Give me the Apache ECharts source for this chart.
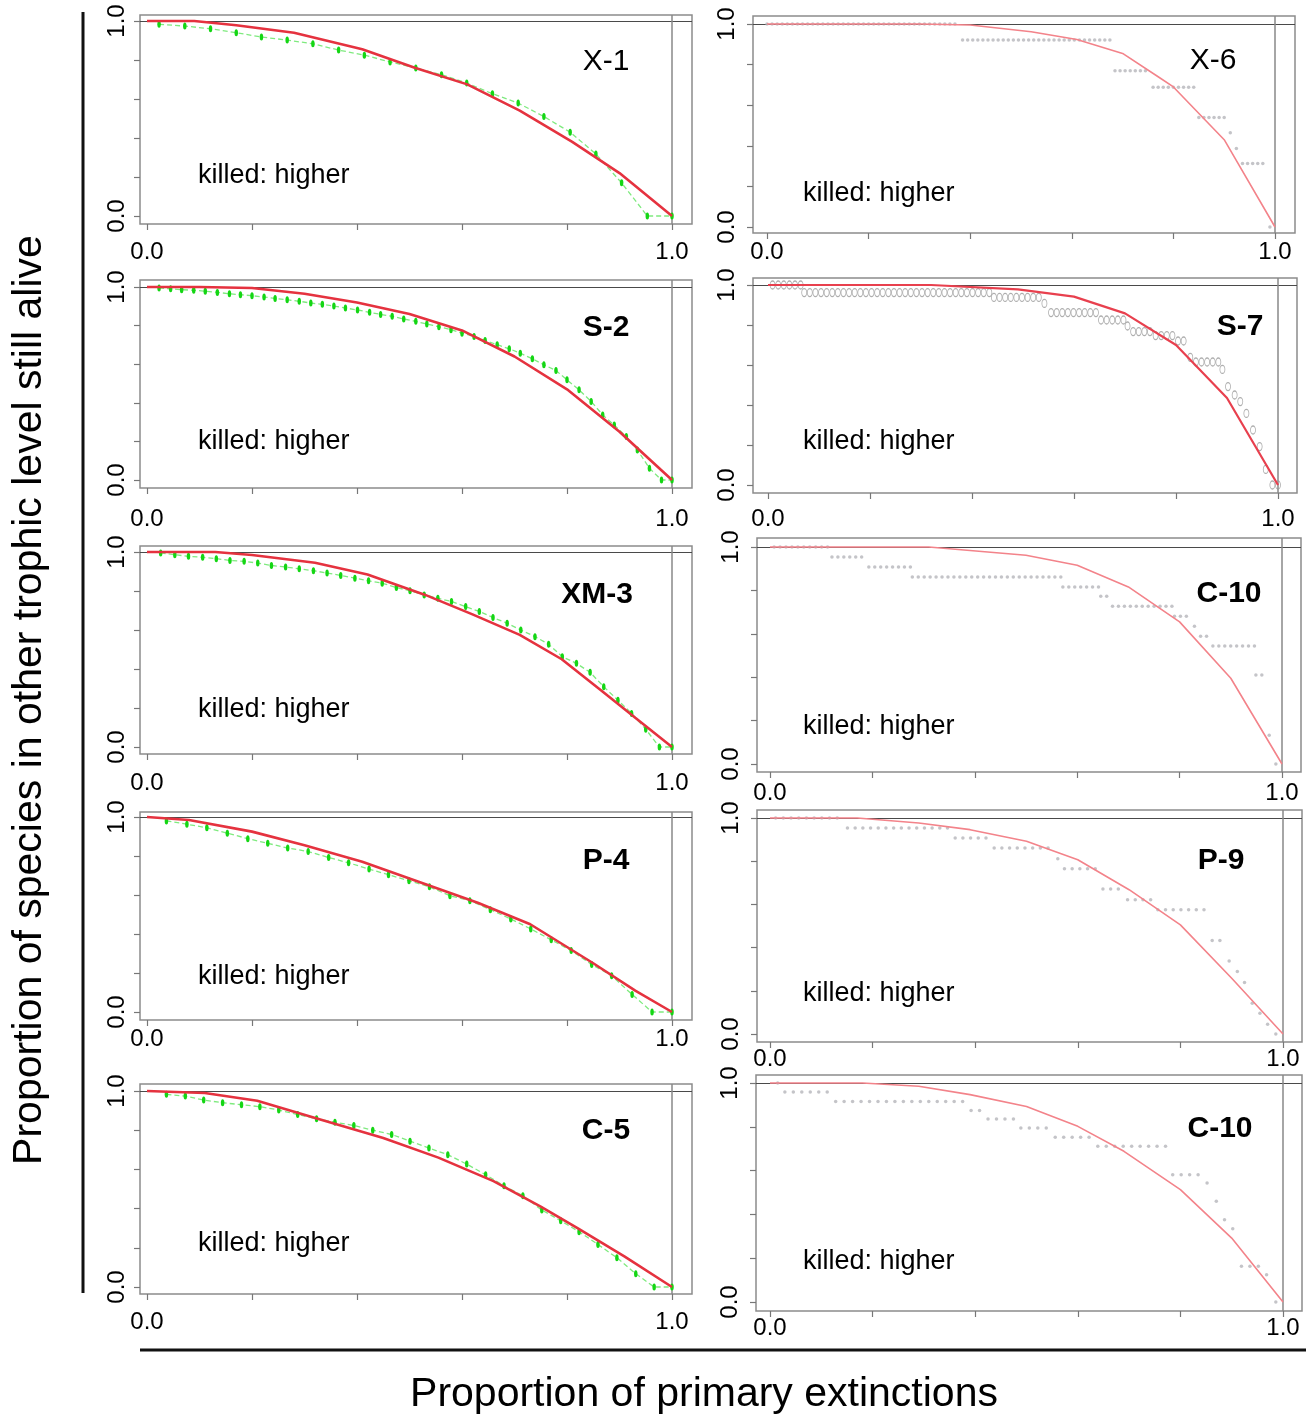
<!DOCTYPE html>
<html>
<head>
<meta charset="utf-8">
<script src="https://cdn.jsdelivr.net/npm/echarts@6/dist/echarts.min.js"></script>
<style>
  html, body { margin: 0; padding: 0; background: #fff; }
  #chart { width: 1306px; height: 1415px; }
</style>
</head>
<body>
<div id="chart"></div>
<script>
(function () {
    // tick positions and the two labelled values on every axis
    const tickValues = [0, 0.2, 0.4, 0.6, 0.8, 1.0];
    const labelValues = [0, 1];
    const panelNames = ['X-1', 'S-2', 'XM-3', 'P-4', 'C-5', 'X-6', 'S-7', 'C-10', 'P-9', 'C-10'];

    // left column: green observed points, red expected curve
    const x1Green = [[0.023, 0.983], [0.072, 0.974], [0.121, 0.960], [0.170, 0.940], [0.218, 0.918], [0.267, 0.902],
        [0.316, 0.883], [0.365, 0.851], [0.414, 0.825], [0.463, 0.790], [0.512, 0.759], [0.561, 0.725], [0.609, 0.682],
        [0.658, 0.627], [0.707, 0.579], [0.756, 0.510], [0.806, 0.430], [0.855, 0.318], [0.904, 0.170], [0.953, 0], [1, 0]];
    const x1Red = [[0, 1], [0.09, 1.0], [0.17, 0.978], [0.28, 0.94], [0.41, 0.855], [0.51, 0.76], [0.61, 0.675],
        [0.71, 0.54], [0.81, 0.38], [0.90, 0.22], [1, 0]];

    const s2Green = [[0.023, 0.995], [0.045, 0.991], [0.066, 0.986], [0.089, 0.983], [0.111, 0.978], [0.134, 0.972],
        [0.157, 0.965], [0.178, 0.960], [0.200, 0.955], [0.223, 0.948], [0.244, 0.941], [0.267, 0.934], [0.290, 0.926],
        [0.312, 0.917], [0.334, 0.910], [0.356, 0.901], [0.378, 0.891], [0.401, 0.881], [0.424, 0.869], [0.445, 0.858],
        [0.467, 0.848], [0.489, 0.834], [0.512, 0.822], [0.533, 0.808], [0.556, 0.794], [0.579, 0.779], [0.600, 0.761],
        [0.623, 0.744], [0.644, 0.723], [0.667, 0.701], [0.690, 0.680], [0.711, 0.657], [0.734, 0.628], [0.756, 0.597],
        [0.779, 0.567], [0.800, 0.519], [0.823, 0.467], [0.846, 0.407], [0.868, 0.337], [0.890, 0.285], [0.913, 0.225],
        [0.934, 0.156], [0.957, 0.061], [0.980, 0], [1, 0]];
    const s2Red = [[0, 1], [0.1, 1.0], [0.2, 0.995], [0.3, 0.965], [0.4, 0.92], [0.5, 0.86], [0.6, 0.775],
        [0.7, 0.64], [0.8, 0.47], [0.9, 0.25], [1, 0]];

    const xm3Green = [[0.026, 0.995], [0.053, 0.986], [0.079, 0.978], [0.106, 0.973], [0.132, 0.966], [0.158, 0.957],
        [0.185, 0.952], [0.211, 0.943], [0.237, 0.931], [0.264, 0.923], [0.290, 0.914], [0.317, 0.904], [0.343, 0.892],
        [0.369, 0.880], [0.396, 0.866], [0.422, 0.852], [0.448, 0.840], [0.475, 0.818], [0.501, 0.801], [0.528, 0.780],
        [0.554, 0.763], [0.580, 0.746], [0.607, 0.720], [0.633, 0.695], [0.659, 0.664], [0.686, 0.635], [0.712, 0.600],
        [0.739, 0.566], [0.765, 0.527], [0.791, 0.463], [0.818, 0.429], [0.844, 0.383], [0.870, 0.309], [0.897, 0.240],
        [0.923, 0.172], [0.950, 0.091], [0.976, 0], [1, 0]];
    const xm3Red = [[0, 1], [0.13, 1.0], [0.2, 0.985], [0.32, 0.945], [0.42, 0.885], [0.53, 0.78], [0.62, 0.68],
        [0.71, 0.575], [0.79, 0.45], [0.87, 0.28], [0.93, 0.15], [1, 0]];

    const p4Green = [[0.037, 0.980], [0.076, 0.963], [0.114, 0.945], [0.153, 0.917], [0.192, 0.889], [0.230, 0.865],
        [0.268, 0.841], [0.307, 0.823], [0.346, 0.792], [0.384, 0.765], [0.423, 0.733], [0.460, 0.704], [0.499, 0.673],
        [0.538, 0.642], [0.577, 0.596], [0.615, 0.571], [0.654, 0.525], [0.693, 0.477], [0.731, 0.426], [0.770, 0.370],
        [0.808, 0.315], [0.847, 0.244], [0.885, 0.186], [0.924, 0.090], [0.962, 0], [1, 0]];
    const p4Red = [[0, 1], [0.08, 0.985], [0.2, 0.925], [0.3, 0.855], [0.41, 0.77], [0.52, 0.665], [0.63, 0.56],
        [0.73, 0.45], [0.85, 0.25], [0.93, 0.11], [1, 0]];

    const c5Green = [[0.037, 0.983], [0.073, 0.974], [0.108, 0.954], [0.144, 0.940], [0.180, 0.930], [0.215, 0.920],
        [0.251, 0.903], [0.287, 0.880], [0.323, 0.858], [0.358, 0.841], [0.394, 0.824], [0.430, 0.800], [0.466, 0.778],
        [0.501, 0.744], [0.537, 0.709], [0.573, 0.675], [0.609, 0.627], [0.645, 0.573], [0.680, 0.516], [0.716, 0.465],
        [0.752, 0.393], [0.788, 0.338], [0.823, 0.282], [0.859, 0.217], [0.895, 0.149], [0.931, 0.068], [0.966, 0], [1, 0]];
    const c5Red = [[0, 1], [0.11, 0.99], [0.21, 0.95], [0.33, 0.855], [0.45, 0.76], [0.555, 0.66], [0.66, 0.54],
        [0.75, 0.41], [0.82, 0.30], [0.91, 0.155], [1, 0]];

    // right column: grey points as runs [xStart, xEnd, y] at a fixed x spacing, red expected curve
    const x6Runs = [[0.00, 0.37, 1.00], [0.385, 0.675, 0.921], [0.685, 0.745, 0.770], [0.76, 0.84, 0.688],
        [0.85, 0.905, 0.539], [0.912, 0.912, 0.464], [0.924, 0.924, 0.387], [0.936, 0.98, 0.313], [0.99, 0.99, 0]];
    const x6Red = [[0, 1], [0.3, 1.0], [0.4, 0.995], [0.52, 0.962], [0.61, 0.924], [0.70, 0.855], [0.77, 0.74],
        [0.80, 0.69], [0.90, 0.43], [1, 0]];

    const s7Runs = [[0.009, 0.064, 1.0], [0.071, 0.434, 0.962], [0.443, 0.532, 0.938], [0.542, 0.542, 0.908],
        [0.555, 0.646, 0.862], [0.653, 0.695, 0.825], [0.705, 0.705, 0.795], [0.716, 0.752, 0.767],
        [0.760, 0.794, 0.747], [0.804, 0.817, 0.72], [0.828, 0.828, 0.638], [0.839, 0.881, 0.615],
        [0.891, 0.891, 0.578], [0.902, 0.902, 0.492], [0.915, 0.915, 0.45], [0.926, 0.926, 0.417],
        [0.938, 0.938, 0.358], [0.951, 0.951, 0.275], [0.964, 0.964, 0.192], [0.976, 0.976, 0.078], [0.989, 1.0, 0]];
    const s7Red = [[0, 1], [0.32, 1.0], [0.49, 0.978], [0.6, 0.942], [0.7, 0.858], [0.8, 0.70], [0.9, 0.435], [1, 0]];

    const c10aRuns = [[0.008, 0.113, 1.0], [0.121, 0.185, 0.954], [0.193, 0.272, 0.908], [0.278, 0.567, 0.862],
        [0.572, 0.639, 0.816], [0.646, 0.661, 0.773], [0.669, 0.782, 0.727], [0.790, 0.820, 0.681],
        [0.829, 0.829, 0.635], [0.841, 0.858, 0.589], [0.865, 0.943, 0.544], [0.949, 0.965, 0.41],
        [0.975, 0.975, 0.133], [0.988, 0.988, 0]];
    const c10aRed = [[0, 1], [0.31, 1.0], [0.5, 0.962], [0.6, 0.916], [0.7, 0.816], [0.8, 0.655], [0.9, 0.395], [1, 0]];

    const p9Runs = [[0.011, 0.139, 1.0], [0.151, 0.346, 0.954], [0.361, 0.429, 0.907], [0.437, 0.546, 0.861],
        [0.561, 0.561, 0.811], [0.574, 0.636, 0.765], [0.649, 0.685, 0.671], [0.697, 0.745, 0.621],
        [0.756, 0.851, 0.575], [0.862, 0.881, 0.433], [0.895, 0.895, 0.338], [0.911, 0.911, 0.289],
        [0.925, 0.925, 0.238], [0.940, 0.940, 0.142], [0.955, 0.955, 0.096], [0.970, 0.970, 0.045], [0.986, 0.986, 0]];
    const p9Red = [[0, 1], [0.17, 1.0], [0.29, 0.977], [0.39, 0.946], [0.5, 0.892], [0.6, 0.807], [0.7, 0.668],
        [0.8, 0.505], [0.9, 0.258], [1, 0]];

    const c10bRuns = [[0.015, 0.015, 1.0], [0.029, 0.117, 0.959], [0.128, 0.380, 0.916], [0.392, 0.414, 0.875],
        [0.425, 0.478, 0.836], [0.489, 0.546, 0.795], [0.556, 0.625, 0.752], [0.639, 0.772, 0.711],
        [0.785, 0.840, 0.581], [0.852, 0.852, 0.543], [0.870, 0.870, 0.46], [0.886, 0.886, 0.376],
        [0.902, 0.902, 0.335], [0.919, 0.953, 0.163], [0.968, 0.968, 0.125], [0.986, 0.986, 0]];
    const c10bRed = [[0, 1], [0.18, 1.0], [0.29, 0.985], [0.39, 0.947], [0.5, 0.893], [0.6, 0.802], [0.69, 0.688],
        [0.8, 0.513], [0.9, 0.292], [1, 0]];

    const runSteps = [0.01, 0.011, 0.0116, 0.015, 0.0165];

    const fontFamily = "'Liberation Sans', Arial, sans-serif";

    // pixel boxes: plot frame l/t/r/b, where 0 and 1 sit on x (x0,x1) and y (y0,y1), label gaps
    const layouts = [
        {l: 140, t: 15, r: 692, b: 224, x0: 147, x1: 672, y1: 21, y0: 216, xm: 16, ym: 11},
        {l: 140, t: 280, r: 692, b: 488, x0: 147, x1: 672, y1: 287, y0: 480, xm: 19, ym: 11},
        {l: 140, t: 546, r: 692, b: 754, x0: 147, x1: 672, y1: 552, y0: 747, xm: 17, ym: 11},
        {l: 140, t: 812, r: 692, b: 1020, x0: 147, x1: 672, y1: 817, y0: 1012, xm: 7, ym: 11},
        {l: 140, t: 1084, r: 692, b: 1294, x0: 147, x1: 672, y1: 1091, y0: 1287, xm: 16, ym: 11},
        {l: 753, t: 16, r: 1295, b: 233, x0: 767, x1: 1275, y1: 24, y0: 227, xm: 7, ym: 14},
        {l: 753, t: 278, r: 1297, b: 493, x0: 768, x1: 1278, y1: 285, y0: 485, xm: 14, ym: 14},
        {l: 757, t: 538, r: 1301, b: 772, x0: 770, x1: 1282, y1: 547, y0: 764, xm: 9, ym: 14},
        {l: 757, t: 810, r: 1302, b: 1042, x0: 770, x1: 1283, y1: 818, y0: 1034, xm: 5, ym: 14},
        {l: 756, t: 1075, r: 1302, b: 1311, x0: 770, x1: 1283, y1: 1083, y0: 1302, xm: 5, ym: 14}
    ];
    const namePos = [[606, 62, 'normal'], [606, 328, 'bold'], [597, 595, 'bold'], [606, 861, 'bold'], [606, 1131, 'bold'],
        [1213, 61, 'normal'], [1240, 327, 'bold'], [1229, 594, 'bold'], [1221, 861, 'bold'], [1220, 1129, 'bold']];
    const killedPos = [[198, 176], [198, 442], [198, 710], [198, 977], [198, 1244],
        [803, 194], [803, 442], [803, 727], [803, 994], [803, 1262]];

    const greens = [x1Green, s2Green, xm3Green, p4Green, c5Green];
    const leftReds = [x1Red, s2Red, xm3Red, p4Red, c5Red];
    const grayRuns = [x6Runs, s7Runs, c10aRuns, p9Runs, c10bRuns];
    const rightReds = [x6Red, s7Red, c10aRed, p9Red, c10bRed];

    function expandRuns(runs, step) {
        const pts = [];
        runs.forEach(([a, b, y]) => {
            for (let x = a; x <= b + step * 0.3; x += step) pts.push([+x.toFixed(4), y]);
        });
        return pts;
    }

    const grids = [], xAxes = [], yAxes = [], series = [];

    layouts.forEach((L, i) => {
        const sx = L.x1 - L.x0, sy = L.y0 - L.y1;
        grids.push({
            left: L.l, top: L.t, width: L.r - L.l, height: L.b - L.t,
            show: true, borderColor: '#8c8c8c', borderWidth: 1.5, backgroundColor: 'transparent',
            outerBoundsMode: 'none'
        });
        const tick = {show: true, customValues: tickValues, length: 6, lineStyle: {color: '#777', width: 1.2}};
        const label = {
            customValues: labelValues, formatter: (v) => Number(v).toFixed(1),
            fontSize: 24, color: '#000', fontFamily: fontFamily
        };
        xAxes.push({
            type: 'value', gridIndex: i, min: (L.l - L.x0) / sx, max: (L.r - L.x0) / sx,
            axisLine: {show: false, onZero: false}, splitLine: {show: false},
            axisTick: tick, axisLabel: Object.assign({margin: L.xm}, label)
        });
        yAxes.push({
            type: 'value', gridIndex: i, min: (L.y0 - L.b) / sy, max: (L.y0 - L.t) / sy,
            axisLine: {show: false, onZero: false}, splitLine: {show: false},
            axisTick: tick, axisLabel: Object.assign({margin: L.ym, rotate: 90}, label)
        });

        // reference lines at y = 1 and x = 1, kept under the curves
        const refLines = {
            silent: true, symbol: 'none', label: {show: false}, animation: false, z: 1,
            data: [
                {yAxis: 1, lineStyle: {color: '#4a4a4a', width: 1.2, type: 'solid'}},
                {xAxis: 1, lineStyle: {color: '#888', width: 1.5, type: 'solid'}}
            ]
        };

        if (i < 5) {
            series.push({
                type: 'line', xAxisIndex: i, yAxisIndex: i, data: greens[i], z: 2,
                symbol: 'circle', symbolSize: [3.5, 7], showSymbol: true, showAllSymbol: true,
                lineStyle: {color: '#7fea7f', width: 1.3, type: [5, 3]},
                itemStyle: {color: '#14d614'},
                markLine: refLines
            });
            series.push({
                type: 'line', xAxisIndex: i, yAxisIndex: i, data: leftReds[i], z: 3,
                showSymbol: false,
                lineStyle: {color: '#e5323f', width: 2.6}
            });
        } else {
            const k = i - 5;
            const isS7 = k === 1;
            series.push({
                type: 'scatter', xAxisIndex: i, yAxisIndex: i, data: expandRuns(grayRuns[k], runSteps[k]), z: 2,
                symbol: 'circle', symbolSize: isS7 ? [5, 8] : 3.5,
                itemStyle: isS7
                    ? {color: 'rgba(255,255,255,0)', borderColor: '#9a9a9a', borderWidth: 1}
                    : {color: '#b5b5ba'},
                markLine: refLines
            });
            series.push({
                type: 'line', xAxisIndex: i, yAxisIndex: i, data: rightReds[k], z: 3,
                showSymbol: false,
                lineStyle: {color: isS7 ? '#e8404e' : '#f3838a', width: isS7 ? 2.2 : 1.6}
            });
        }
    });

    const graphic = [];
    panelNames.forEach((name, i) => {
        graphic.push({
            type: 'text', x: namePos[i][0], y: namePos[i][1], silent: true,
            style: {
                text: name, fontSize: 30, fontWeight: namePos[i][2], fontFamily: fontFamily, fill: '#000',
                align: 'center', verticalAlign: 'middle', textAlign: 'center', textVerticalAlign: 'middle'
            }
        });
        graphic.push({
            type: 'text', x: killedPos[i][0], y: killedPos[i][1], silent: true,
            style: {
                text: 'killed: higher', fontSize: 27, fontFamily: fontFamily, fill: '#000',
                align: 'left', verticalAlign: 'middle', textAlign: 'left', textVerticalAlign: 'middle'
            }
        });
    });
    graphic.push({
        type: 'text', x: 30, y: 700, rotation: Math.PI / 2, silent: true,
        style: {
            text: 'Proportion of species in other trophic level still alive', fontSize: 41,
            fontFamily: fontFamily, fill: '#000',
            align: 'center', verticalAlign: 'middle', textAlign: 'center', textVerticalAlign: 'middle'
        }
    });
    graphic.push({
        type: 'text', x: 704, y: 1395, silent: true,
        style: {
            text: 'Proportion of primary extinctions', fontSize: 41, fontFamily: fontFamily, fill: '#000',
            align: 'center', verticalAlign: 'middle', textAlign: 'center', textVerticalAlign: 'middle'
        }
    });
    graphic.push({
        type: 'line', silent: true, shape: {x1: 83, y1: 12, x2: 83, y2: 1293},
        style: {stroke: '#111', lineWidth: 3}
    });
    graphic.push({
        type: 'line', silent: true, shape: {x1: 140, y1: 1350, x2: 1306, y2: 1350},
        style: {stroke: '#111', lineWidth: 3}
    });

    const chart = echarts.init(document.getElementById('chart'));
    chart.setOption({
        animation: false,
        backgroundColor: '#fff',
        grid: grids,
        xAxis: xAxes,
        yAxis: yAxes,
        series: series,
        graphic: graphic
    });
})();
</script>
</body>
</html>
